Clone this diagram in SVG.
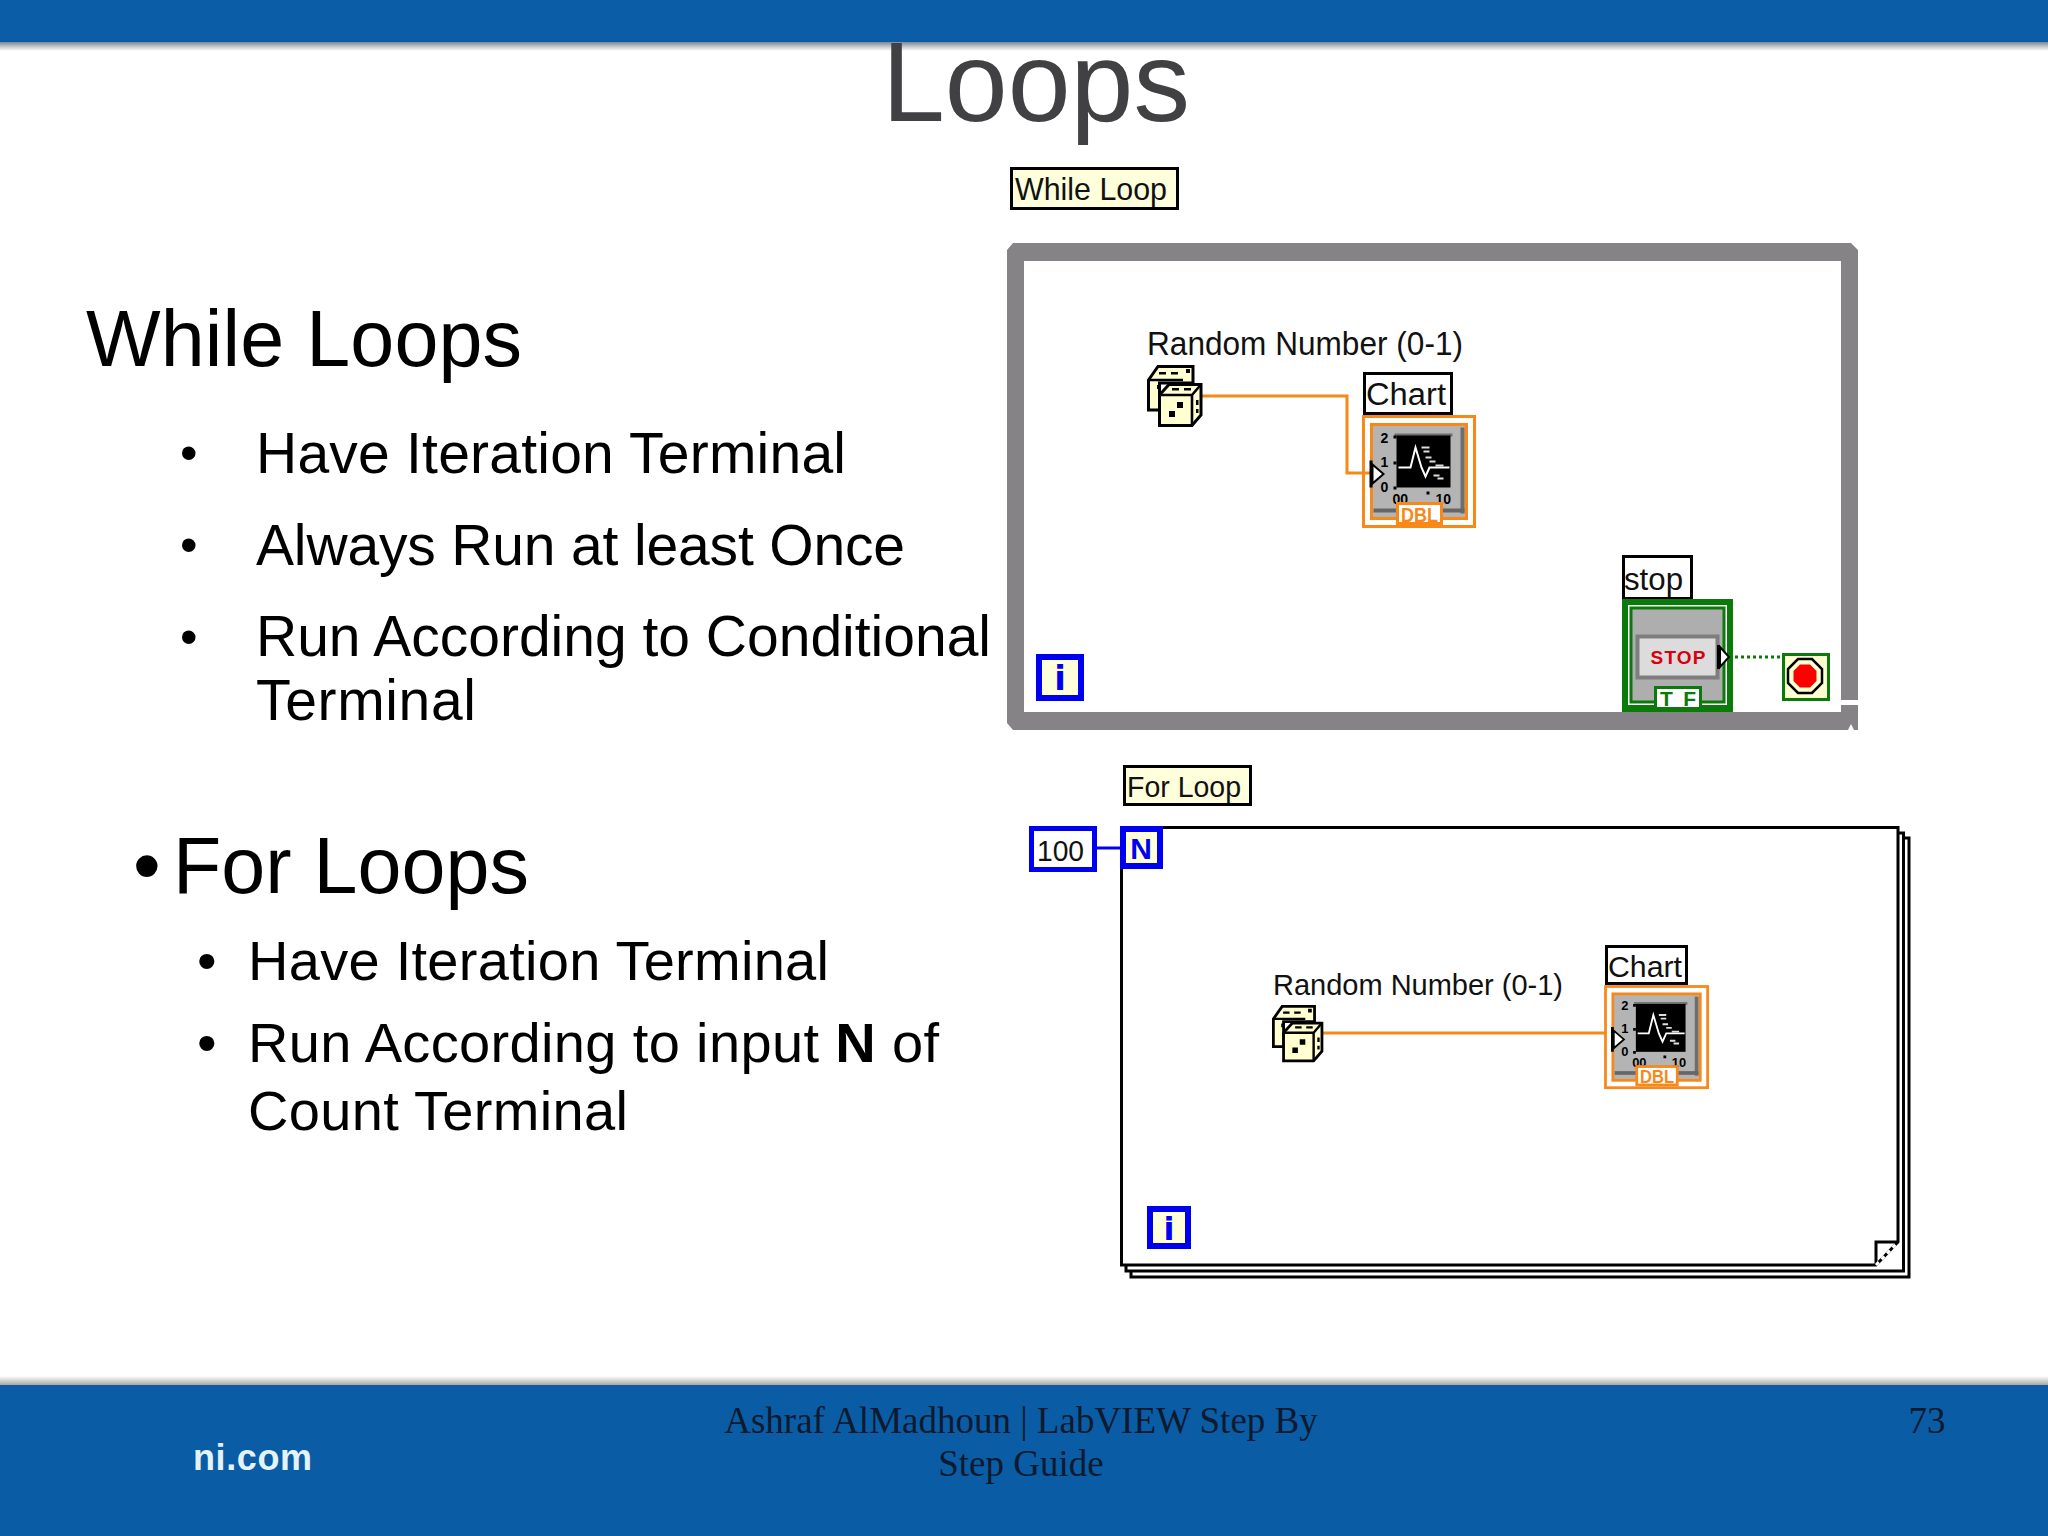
<svg xmlns="http://www.w3.org/2000/svg" width="2048" height="1536" viewBox="0 0 2048 1536">
<style>
.sans{font-family:"Liberation Sans",Arial,sans-serif}
.bl{fill:#000}
.lv{font-family:"Liberation Sans",Arial,sans-serif;font-size:32px;fill:#111}
.lbl{fill:#fff;stroke:#000;stroke-width:3}
.note{fill:#ffffdc;stroke:#000;stroke-width:3}
.blue{fill:#ffffdc;stroke:#0000f0;stroke-width:6}
.or{fill:none;stroke:#f7881a;stroke-width:3}
.wireO{fill:none;stroke:#f7881a;stroke-width:3}
.tick{font-family:"Liberation Sans",Arial,sans-serif;font-size:14px;font-weight:bold;fill:#000}
.tr{fill:none;stroke:#fff;stroke-width:2}
.die{fill:#ffffd0;stroke:#000;stroke-width:3;stroke-linejoin:miter}
</style>
<defs>
<linearGradient id="shT" x1="0" y1="0" x2="0" y2="1"><stop offset="0" stop-color="#7d8794"/><stop offset=".5" stop-color="#c4c7ca"/><stop offset="1" stop-color="#fff"/></linearGradient>
<linearGradient id="shB" x1="0" y1="0" x2="0" y2="1"><stop offset="0" stop-color="#fff"/><stop offset="1" stop-color="#a8a8a4"/></linearGradient>
<g id="dice">
<path class="die" d="M1.500 15L11 1.500H46V18H12.500V45H1.500Z"/>
<path class="die" d="M12.500 30L22 19.500H54V50L45 60.500H12.500Z"/>
<path d="M1.500 15H36M12.500 30H45V60.500M45 30L54 19.500" fill="none" stroke="#000" stroke-width="2.600"/>
<path d="M30 37h6v6h-6zM22 46h6v6h-6zM25 23h7v2.500h-7zM37 23h7v2.500h-7zM49 35h2.500v5h-2.500zM49 44h2.500v4h-2.500zM12 7h7v2.500h-7zM24 7h7v2.500h-7zM39 4h4v4h-4zM10 20h4v4h-4z" fill="#000"/>
</g>
<g id="plot">
<rect x="0" y="0" width="111" height="110" class="or"/>
<rect x="8" y="8" width="95" height="94" fill="#b4b4b4" stroke="#f7881a" stroke-width="3"/>
<rect x="31" y="17" width="58" height="3" fill="#6e6e6e"/>
<rect x="97" y="11" width="4" height="86" fill="#6e6e6e"/>
<rect x="10" y="92" width="91" height="4" fill="#666"/>
<rect x="33" y="19" width="54" height="52" fill="#000"/>
<path class="tr" d="M35 51H47L52 31L58 51L62 60L66 51H86"/>
<path d="M58 31h8M60 35h6M62 41h6M66 45h6M72 49h8M70 59h6M74 62h6" fill="none" stroke="#ddd" stroke-width="2"/>
<path d="M6 44h3v27h-3zM30 19h3v3h-3zM30 45h3v3h-3zM30 70h3v3h-3zM63 75h3v3h-3z" fill="#000"/>
<path d="M9 48L20 57.500L9 67Z" fill="#fff" stroke="#000" stroke-width="2"/>
</g>
</defs>

<rect width="2048" height="1536" fill="#fff"/>
<rect x="0" y="42" width="2048" height="9" fill="url(#shT)"/>
<rect x="0" y="1376" width="2048" height="9" fill="url(#shB)"/>
<text class="sans" x="882" y="121" font-size="113" fill="#414042">Loops</text>
<rect x="0" y="0" width="2048" height="42" fill="#0a5da6"/>
<rect x="0" y="1385" width="2048" height="151" fill="#0a5ca5"/>

<g id="text-while" class="sans">
<text x="86" y="366" font-size="79" class="bl" textLength="436" lengthAdjust="spacing">While Loops</text>
<text x="180" y="470" font-size="50" class="bl">•</text>
<text x="256" y="473" font-size="57" class="bl" textLength="590" lengthAdjust="spacing">Have Iteration Terminal</text>
<text x="180" y="562" font-size="50" class="bl">•</text>
<text x="256" y="565" font-size="57" class="bl" textLength="649" lengthAdjust="spacing">Always Run at least Once</text>
<text x="180" y="654" font-size="50" class="bl">•</text>
<text x="256" y="656" font-size="57" class="bl" textLength="735" lengthAdjust="spacing">Run According to Conditional</text>
<text x="256" y="720" font-size="57" class="bl" textLength="220" lengthAdjust="spacing">Terminal</text>
</g>
<g id="text-for" class="sans">
<text x="133" y="893" font-size="79" class="bl">•</text>
<text x="173" y="893" font-size="79" class="bl" textLength="356" lengthAdjust="spacing">For Loops</text>
<text x="197" y="980" font-size="56" class="bl">•</text>
<text x="248" y="980" font-size="56" class="bl" textLength="581" lengthAdjust="spacing">Have Iteration Terminal</text>
<text x="197" y="1062" font-size="56" class="bl">•</text>
<text x="248" y="1062" font-size="56" class="bl" textLength="691" lengthAdjust="spacing">Run According to input <tspan font-weight="bold">N</tspan> of</text>
<text x="248" y="1130" font-size="56" class="bl" textLength="380" lengthAdjust="spacing">Count Terminal</text>
</g>

<g id="footer">
<text x="193" y="1470" font-size="36" font-weight="bold" class="sans" fill="#e4f2fa" textLength="119" lengthAdjust="spacing">ni.com</text>
<g font-family="'Liberation Serif','Times New Roman',serif" font-size="37" fill="#0e1a2e" text-anchor="middle">
<text x="1021" y="1433">Ashraf AlMadhoun | LabVIEW Step By</text>
<text x="1021" y="1476">Step Guide</text>
<text x="1927" y="1433">73</text>
</g>
</g>

<!-- While Loop -->
<g id="while-label"><rect class="note" x="1011.500" y="168.500" width="166" height="40"/><text class="lv" x="1015" y="200" textLength="152" lengthAdjust="spacingAndGlyphs">While Loop</text></g>
<g id="while-frame">
<path fill-rule="evenodd" fill="#858386" d="M1013 243H1851L1858 250V700H1858V730H1013L1007 723V250ZM1024 261V712H1841V261Z"/>
<path d="M1837 700H1858V705H1841V712H1837Z" fill="#fff"/>
<path d="M1848 730L1851 724L1854 730Z" fill="#fff"/>
</g>
<g id="while-iter"><rect class="blue" x="1039" y="657" width="42" height="41"/><text x="1060" y="690" text-anchor="middle" font-family="'DejaVu Sans',sans-serif" font-weight="bold" font-size="34" fill="#0000f0">i</text></g>

<!-- For Loop frame -->
<g id="for-frame" fill="none" stroke="#000" stroke-width="3">
<path fill="#fff" d="M1121.500 827.500H1898V1242L1876 1265H1121.500Z"/>
<path d="M1126 1265V1271H1903.500V833H1898"/>
<path d="M1131 1271V1277H1909V838H1903.500"/>
<path d="M1898 1242H1876V1265"/>
<path d="M1876 1265L1898 1242" stroke="#fff" stroke-width="3" stroke-dasharray="4 4"/>
</g>

<g id="connectors">
<path class="wireO" d="M1202 396H1347V473H1370"/>
<path class="wireO" d="M1323 1033H1607"/>
<path d="M1735 657H1782" fill="none" stroke="#0a7a0a" stroke-width="3" stroke-dasharray="3 3"/>
<path d="M1097 848H1120" fill="none" stroke="#0000f0" stroke-width="3"/>
</g>

<g id="while-random"><text class="lv" x="1147" y="355" style="font-size:34px" textLength="316" lengthAdjust="spacingAndGlyphs">Random Number (0-1)</text><use href="#dice" transform="translate(1147 365)"/></g>
<g id="while-chart">
<rect class="lbl" x="1364.500" y="373.500" width="87" height="40"/>
<text class="lv" x="1366" y="405" style="font-size:31px" textLength="80" lengthAdjust="spacingAndGlyphs">Chart</text>
<g transform="translate(1363.500 416.500)">
<use href="#plot"/>
<text class="tick" x="17" y="26">2</text><text class="tick" x="17" y="50">1</text><text class="tick" x="17" y="75">0</text><text class="tick" x="29" y="87">00</text><text class="tick" x="72" y="87">10</text>
<rect x="34" y="87" width="44" height="20" fill="#fff" stroke="#f7881a" stroke-width="3"/>
<text x="56" y="105" text-anchor="middle" font-size="20" font-weight="bold" class="sans" fill="#f7881a" textLength="37" lengthAdjust="spacingAndGlyphs">DBL</text>
</g>
</g>

<g id="while-stop">
<rect class="lbl" x="1623.500" y="556.500" width="68" height="42"/>
<text class="lv" x="1624" y="590" textLength="59" lengthAdjust="spacingAndGlyphs">stop</text>
<rect x="1622" y="599" width="111" height="113" fill="#0a7a0a"/>
<rect x="1628" y="605" width="99" height="100" fill="#fff"/>
<rect x="1631" y="608" width="93" height="94" fill="#aeaeae" stroke="#0a7a0a" stroke-width="3"/>
<rect x="1637.500" y="636.500" width="80" height="41" fill="#dcdcdc" stroke="#7e7e7e" stroke-width="4"/>
<text x="1678" y="664" text-anchor="middle" font-size="19" font-weight="bold" class="sans" fill="#d8000c" textLength="55" lengthAdjust="spacing">STOP</text>
<rect x="1717" y="645" width="3" height="24" fill="#000"/>
<path d="M1720 647L1729 657L1720 667Z" fill="#fff" stroke="#000" stroke-width="2"/>
<rect x="1655.500" y="687.500" width="45" height="21" fill="#fff" stroke="#0a7a0a" stroke-width="3"/>
<text x="1678" y="706" text-anchor="middle" font-size="21" font-weight="bold" class="sans" fill="#0a7a0a" textLength="36" lengthAdjust="spacing">TF</text>
</g>
<g id="while-condition">
<rect x="1783.500" y="654.500" width="45" height="45" fill="#ffffd0" stroke="#0a7a0a" stroke-width="3"/>
<path d="M1798 659H1812L1822 669V683L1812 693H1798L1788 683V669Z" fill="#ffffd0" stroke="#000" stroke-width="2.500"/>
<path d="M1800 664.500H1810L1816.500 671V681L1810 687.500H1800L1793.500 681V671Z" fill="#f00"/>
</g>

<g id="for-label"><rect class="note" x="1124.500" y="766.500" width="126" height="38"/><text class="lv" x="1127" y="797" style="font-size:29px" textLength="114" lengthAdjust="spacingAndGlyphs">For Loop</text></g>
<g id="for-count"><rect x="1031.500" y="828.500" width="63" height="41" fill="#fff" stroke="#0000f0" stroke-width="5"/><text class="lv" x="1037" y="861" style="font-size:29px" textLength="47" lengthAdjust="spacingAndGlyphs">100</text></g>
<g id="for-n"><rect class="blue" x="1123" y="829" width="37" height="37"/><text x="1141" y="859" text-anchor="middle" class="sans" font-weight="bold" font-size="30" fill="#0000f0">N</text></g>
<g id="for-iter"><rect class="blue" x="1150" y="1209" width="38" height="37"/><text x="1169" y="1240" text-anchor="middle" font-family="'DejaVu Sans',sans-serif" font-weight="bold" font-size="32" fill="#0000f0">i</text></g>
<g id="for-random"><text class="lv" x="1273" y="995" style="font-size:29px" textLength="290" lengthAdjust="spacingAndGlyphs">Random Number (0-1)</text><use href="#dice" transform="translate(1272 1005) scale(.925)"/></g>
<g id="for-chart">
<rect class="lbl" x="1606.500" y="946.500" width="80" height="37"/>
<text class="lv" x="1608" y="977" style="font-size:30px" textLength="74" lengthAdjust="spacingAndGlyphs">Chart</text>
<g transform="translate(1605.500 986.500) scale(.92)">
<use href="#plot"/>
<text class="tick" x="17" y="26">2</text><text class="tick" x="17" y="50">1</text><text class="tick" x="17" y="75">0</text><text class="tick" x="29" y="87">00</text><text class="tick" x="72" y="87">10</text>
<rect x="34" y="87" width="44" height="20" fill="#fff" stroke="#f7881a" stroke-width="3"/>
<text x="56" y="105" text-anchor="middle" font-size="20" font-weight="bold" class="sans" fill="#f7881a" textLength="37" lengthAdjust="spacingAndGlyphs">DBL</text>
</g>
</g>
</svg>
